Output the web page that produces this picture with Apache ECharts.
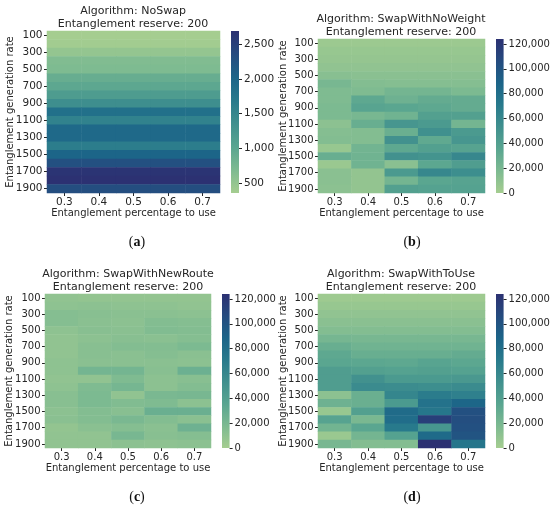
<!DOCTYPE html>
<html>
<head>
<meta charset="utf-8">
<script src="https://cdn.jsdelivr.net/npm/echarts@6/dist/echarts.min.js"></script>
<style>
  html, body { margin: 0; padding: 0; background: #fff; }
  #main { width: 550px; height: 509px; }
</style>
</head>
<body>
<div id="main"></div>
<script>
// categories
var percents = ['0.3', '0.4', '0.5', '0.6', '0.7'];
var rates = ['100', '200', '300', '400', '500', '600', '700', '800', '900', '1000',
  '1100', '1200', '1300', '1400', '1500', '1600', '1700', '1800', '1900'];

// one row per generation rate, one column per percentage
var noSwap = [
  [356, 356, 356, 356, 356],
  [380, 380, 380, 380, 380],
  [500, 500, 500, 500, 500],
  [660, 660, 660, 660, 660],
  [680, 680, 680, 680, 680],
  [890, 890, 890, 890, 890],
  [990, 990, 990, 990, 990],
  [1170, 1170, 1170, 1170, 1170],
  [1380, 1380, 1380, 1380, 1380],
  [1850, 1850, 1850, 1850, 1850],
  [1570, 1570, 1570, 1570, 1570],
  [1945, 1945, 1945, 1945, 1945],
  [1945, 1945, 1945, 1945, 1945],
  [1640, 1640, 1640, 1640, 1640],
  [2015, 2015, 2015, 2015, 2015],
  [2295, 2295, 2295, 2295, 2295],
  [2650, 2650, 2650, 2650, 2650],
  [2692, 2692, 2692, 2692, 2692],
  [2320, 2320, 2320, 2320, 2320]
];

var swapNoWeight = [
  [4000, 4000, 4000, 4000, 4000],
  [6000, 6000, 6000, 6000, 6000],
  [7000, 7000, 7000, 7000, 7000],
  [9000, 9000, 9000, 9000, 9000],
  [13000, 12000, 12000, 12000, 12000],
  [20000, 15000, 14000, 14000, 14000],
  [17000, 17000, 22000, 22000, 18000],
  [17000, 33000, 25000, 30000, 30000],
  [18000, 36000, 35000, 33000, 30000],
  [18000, 20000, 24000, 40000, 40000],
  [11000, 28000, 48000, 45000, 22000],
  [14000, 15000, 27000, 53000, 45000],
  [15000, 15000, 52000, 32000, 48000],
  [6000, 23000, 33000, 40000, 37000],
  [28000, 24000, 52000, 50000, 60000],
  [5000, 24000, 12000, 34000, 42000],
  [12000, 8000, 45000, 60000, 55000],
  [12000, 8000, 22000, 35000, 37000],
  [11000, 8000, 40000, 38000, 38000]
];

var swapNewRoute = [
  [9000, 8000, 8000, 8000, 8000],
  [10000, 11000, 10000, 10000, 9000],
  [14000, 13000, 12000, 12000, 11000],
  [14000, 12000, 11000, 15000, 14000],
  [10000, 13000, 12000, 16000, 15000],
  [9000, 11000, 13000, 12000, 14000],
  [9000, 13000, 15000, 15000, 18000],
  [9000, 13000, 12000, 14000, 12000],
  [10000, 12000, 12000, 12000, 11000],
  [10000, 22000, 22000, 13000, 26000],
  [9000, 9000, 17000, 11000, 13000],
  [10000, 17000, 21000, 11000, 15000],
  [13000, 18000, 9000, 19000, 20000],
  [13000, 18000, 16000, 17000, 11000],
  [11000, 15000, 13000, 27000, 27000],
  [12000, 15000, 19000, 15000, 12000],
  [8000, 12000, 14000, 12000, 25000],
  [9000, 9000, 20000, 13000, 14000],
  [9000, 9000, 11000, 10000, 11000]
];

var swapToUse = [
  [3000, 3000, 3000, 3000, 3000],
  [6000, 6000, 6000, 6000, 6000],
  [9000, 9000, 9000, 9000, 9000],
  [12000, 12000, 12000, 12000, 12000],
  [15000, 15000, 15000, 15000, 15000],
  [21000, 20000, 20000, 20000, 20000],
  [28000, 24000, 24000, 24000, 24000],
  [33000, 28000, 28000, 28000, 30000],
  [35000, 34000, 33000, 36000, 34000],
  [42000, 40000, 38000, 40000, 38000],
  [42000, 52000, 45000, 45000, 46000],
  [42000, 57000, 56000, 55000, 57000],
  [11000, 27000, 61000, 69000, 66000],
  [25000, 27000, 45000, 77000, 87000],
  [6000, 40000, 83000, 74000, 103000],
  [37000, 19000, 81000, 115000, 104000],
  [23000, 35000, 71000, 48000, 103000],
  [5000, 22000, 38000, 84000, 100000],
  [20000, 15000, 15000, 124000, 75000]
];

var titles = ['NoSwap', 'SwapWithNoWeight', 'SwapWithNewRoute', 'SwapWithToUse'];
var captions = ['a', 'b', 'c', 'd'];
var ticksA = [500, 1000, 1500, 2000, 2500];
var ticksB = [0, 20000, 40000, 60000, 80000, 100000, 120000];

// seaborn "crest"
var crest = ['#a5cd90', '#7dba91', '#59a590', '#40908e', '#287a8c', '#1c6488', '#254b7f', '#2c3172'];

var font = 'DejaVu Sans';
var textColor = '#262626';

function flat(m) { return [].concat.apply([], m); }
function toCells(m) {
  var out = [];
  m.forEach(function (row, y) {
    row.forEach(function (v, x) { out.push([x, y, v]); });
  });
  return out;
}

var minA = Math.min.apply(null, flat(noSwap));
var maxA = Math.max.apply(null, flat(noSwap));
var maxB = Math.max.apply(null, flat(swapNoWeight).concat(flat(swapNewRoute), flat(swapToUse)));

var panels = [
  { data: noSwap, min: minA, max: maxA, ticks: ticksA,
    grid: { left: 47, top: 31, width: 173, height: 162 }, bar: { left: 231, width: 8 },
    titleX: 133, titleY: 5, nameGap: 32, tickFont: 10.5, capX: 137, capY: 242 },
  { data: swapNoWeight, min: 0, max: maxB, ticks: ticksB,
    grid: { left: 318, top: 39, width: 167, height: 154 }, bar: { left: 496, width: 7.6 },
    titleX: 401, titleY: 13, nameGap: 30, tickFont: 10, capX: 412, capY: 242 },
  { data: swapNewRoute, min: 0, max: maxB, ticks: ticksB,
    grid: { left: 45, top: 294, width: 166, height: 154 }, bar: { left: 222, width: 7.6 },
    titleX: 128, titleY: 268, nameGap: 31, tickFont: 10, capX: 137, capY: 497 },
  { data: swapToUse, min: 0, max: maxB, ticks: ticksB,
    grid: { left: 318, top: 294, width: 167, height: 154 }, bar: { left: 496, width: 7.6 },
    titleX: 401, titleY: 268, nameGap: 30, tickFont: 10, capX: 412, capY: 497 }
];

var chart = echarts.init(document.getElementById('main'), null, { renderer: 'canvas' });

var option = {
  backgroundColor: '#fff',
  animation: false,
  title: [],
  grid: [],
  xAxis: [],
  yAxis: [],
  visualMap: [],
  series: [],
  graphic: []
};

panels.forEach(function (p, i) {
  option.title.push({
    text: 'Algorithm: ' + titles[i] + '\nEntanglement reserve: 200',
    left: p.titleX,
    top: p.titleY,
    textAlign: 'center',
    padding: 0,
    textStyle: { fontFamily: font, fontSize: 11, fontWeight: 'normal', color: textColor, lineHeight: 12.5 }
  });

  // heatmap grid
  option.grid.push({
    left: p.grid.left, top: p.grid.top, width: p.grid.width, height: p.grid.height,
    outerBoundsMode: 'none'
  });
  option.xAxis.push({
    type: 'category', gridIndex: i * 2, data: percents,
    name: 'Entanglement percentage to use', nameLocation: 'middle', nameGap: 15,
    nameMoveOverlap: false,
    nameTextStyle: { fontFamily: font, fontSize: 10, color: textColor },
    axisLine: { show: false },
    axisTick: { show: true, alignWithLabel: true, length: 3, lineStyle: { color: textColor } },
    axisLabel: { fontFamily: font, fontSize: p.tickFont, color: textColor, margin: 4 },
    splitLine: { show: false }
  });
  option.yAxis.push({
    type: 'category', gridIndex: i * 2, data: rates, inverse: true,
    name: 'Entanglement generation rate', nameLocation: 'middle', nameGap: p.nameGap,
    nameMoveOverlap: false,
    nameTextStyle: { fontFamily: font, fontSize: 10, color: textColor },
    axisLine: { show: false },
    axisTick: { show: true, alignWithLabel: true, interval: 1, length: 3, lineStyle: { color: textColor } },
    axisLabel: { fontFamily: font, fontSize: p.tickFont, color: textColor, interval: 1, margin: 4.5 },
    splitLine: { show: false }
  });
  option.visualMap.push({
    show: false, seriesIndex: i, min: p.min, max: p.max,
    inRange: { color: crest }
  });
  option.series.push({
    type: 'heatmap', xAxisIndex: i * 2, yAxisIndex: i * 2,
    data: toCells(p.data),
    itemStyle: { borderWidth: 0 },
    progressive: 0
  });

  // colorbar grid
  var stops = crest.map(function (c, k) { return { offset: k / (crest.length - 1), color: c }; });
  option.grid.push({
    left: p.bar.left, top: p.grid.top, width: p.bar.width, height: p.grid.height,
    outerBoundsMode: 'none',
    show: true, borderWidth: 0,
    backgroundColor: new echarts.graphic.LinearGradient(0, 1, 0, 0, stops)
  });
  option.xAxis.push({ type: 'category', gridIndex: i * 2 + 1, data: [''], show: false });
  option.yAxis.push({
    type: 'value', gridIndex: i * 2 + 1, min: p.min, max: p.max, position: 'right',
    axisLine: { show: false },
    axisTick: { show: true, length: 3, customValues: p.ticks, lineStyle: { color: textColor } },
    axisLabel: {
      fontFamily: font, fontSize: p.tickFont, color: textColor, margin: 5, customValues: p.ticks,
      formatter: function (v) { return Number(v).toLocaleString('en-US'); }
    },
    splitLine: { show: false }
  });

  // caption under each panel
  option.graphic.push({
    type: 'text', x: p.capX, y: p.capY,
    style: {
      text: '({b|' + captions[i] + '})', textAlign: 'center', textVerticalAlign: 'middle',
      fontFamily: 'Liberation Serif', fontSize: 14, fill: '#111',
      rich: { b: { fontFamily: 'Liberation Serif', fontSize: 14, fontWeight: 'bold', fill: '#111' } }
    }
  });
});

if (option && typeof option === 'object') {
  chart.setOption(option);
}

window.addEventListener('resize', chart.resize);
</script>
</body>
</html>
